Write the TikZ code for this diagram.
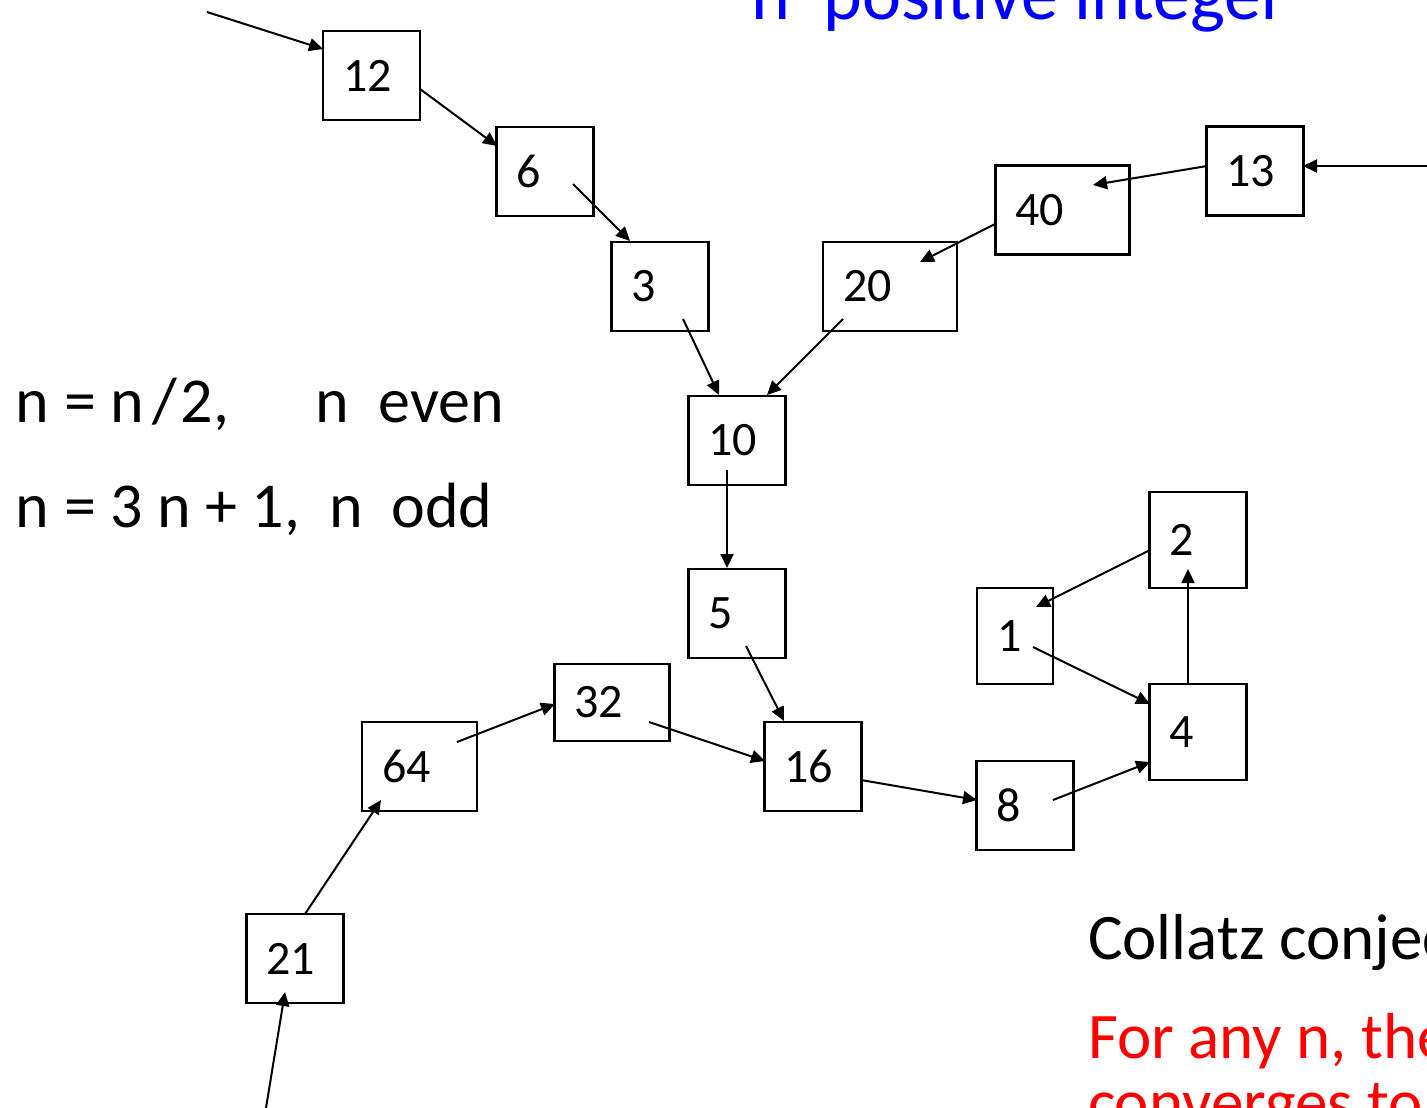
\documentclass[tikz,border=0pt]{standalone}
\usepackage{fontspec}
\setmainfont{Carlito}
\usetikzlibrary{arrows.meta}

\tikzset{
  num/.style={draw, line width=1.2pt, minimum height=44.5pt, text width=28.5pt,
    inner xsep=10pt, inner ysep=0pt, align=left, font=\fontsize{24}{28}\selectfont},
  wide/.style={text width=47pt},
  mid/.style={text width=37.5pt},
  slim/.style={text width=18pt},
  tall/.style={minimum height=48pt},
  flat/.style={minimum height=38.5pt},
  rule/.style={anchor=base west, inner sep=0pt, font=\fontsize{32}{38}\selectfont},
  big/.style={font=\fontsize{32.5}{38}\selectfont},
}

\begin{document}
\begin{tikzpicture}[x=0.5pt, y=-0.5pt, line width=1pt,
  >={Triangle[length=7pt, width=6.5pt]}]

  \useasboundingbox (0,0) rectangle (1427,1107);
  \clip (0,0) rectangle (1427,1107);

  % the numbers
  \node[num] (n12) at (371.5, 75.5) {12};
  \node[num] (n6) at (545, 171.5) {6};
  \node[num] (n3) at (660, 286.5) {3};
  \node[num, wide] (n20) at (890, 286.5) {20};
  \node[num, wide] (n40) at (1062.5, 210) {40};
  \node[num] (n13) at (1255, 171) {13};
  \node[num] (n10) at (737, 440.5) {10};
  \node[num] (n5) at (737, 613.5) {5};
  \node[num, mid, flat] (n32) at (612, 702.5) {32};
  \node[num, mid] (n64) at (419.5, 766.5) {64};
  \node[num] (n16) at (813, 766.5) {16};
  \node[num] (n8) at (1025, 805.5) {8};
  \node[num, tall] (n4) at (1198, 732) {4};
  \node[num, tall] (n2) at (1198, 540) {2};
  \node[num, slim, tall] (n1) at (1015, 636) {1};
  \node[num] (n21) at (295, 958.5) {21};

  \coordinate (in12) at (207, 12);
  \coordinate (in13) at (1440, 166);
  \coordinate (in21) at (264, 1120);

  % the texts
  \node[rule, text=blue, font=\fontsize{37}{42}\selectfont] (title) at (750, 20) {n\ \ positive integer};
  \node[rule] (even) at (15, 422) {n = n\kern4pt/\kern2pt2,\ \ \ \ \ \ n\ \ even};
  \node[rule] (odd) at (15, 527) {n = 3 n + 1,\ \ n\ \ odd};
  \node[rule, big] (conj) at (1087, 959) {Collatz conjecture};
  \node[rule, big, text=red] (claim) at (1087, 1058) {For any n, the};
  \node[rule, big, text=red] (claim2) at (1087, 1124) {converges to};

  % the steps
  \draw [->] (in12) to ([shift={(-48.5,-26.5)}]n12.center);
  \draw [->] ([shift={(48.5,13.5)}]n12.center) to ([shift={(-48,-25.5)}]n6.center);
  \draw [->] ([shift={(28,12.5)}]n6.center) to ([shift={(-30,-45.5)}]n3.center);
  \draw [->] ([shift={(23,32.5)}]n3.center) to ([shift={(-18,-45.5)}]n10.center);
  \draw [->] (in13) to ([shift={(48,-5)}]n13.center);
  \draw [->] ([shift={(-48,-5)}]n13.center) to ([shift={(30.5,-25)}]n40.center);
  \draw [->] ([shift={(-67.5,14)}]n40.center) to ([shift={(30,-24.5)}]n20.center);
  \draw [->] ([shift={(-47,32.5)}]n20.center) to ([shift={(30,-45.5)}]n10.center);
  \draw [->] ([shift={(-10,29.5)}]n10.center) to ([shift={(-10,-45.5)}]n5.center);
  \draw [->] ([shift={(9,32.5)}]n5.center) to ([shift={(-29,-45.5)}]n16.center);
  \draw [->] (in21) to ([shift={(-10,33.5)}]n21.center);
  \draw [->] ([shift={(10,-44.5)}]n21.center) to ([shift={(-38.5,33.5)}]n64.center);
  \draw [->] ([shift={(37.5,-24.5)}]n64.center) to ([shift={(-57,1.5)}]n32.center);
  \draw [->] ([shift={(37,19.5)}]n32.center) to ([shift={(-48,-5.5)}]n16.center);
  \draw [->] ([shift={(48,13.5)}]n16.center) to ([shift={(-48,-5.5)}]n8.center);
  \draw [->] ([shift={(28,-5.5)}]n8.center) to ([shift={(-48,30)}]n4.center);
  \draw [->] ([shift={(-10,-48)}]n4.center) to ([shift={(-10,29)}]n2.center);
  \draw [->] ([shift={(-48,10)}]n2.center) to ([shift={(21,-29)}]n1.center);
  \draw [->] ([shift={(18,11)}]n1.center) to ([shift={(-48,-28)}]n4.center);

\end{tikzpicture}
\end{document}
